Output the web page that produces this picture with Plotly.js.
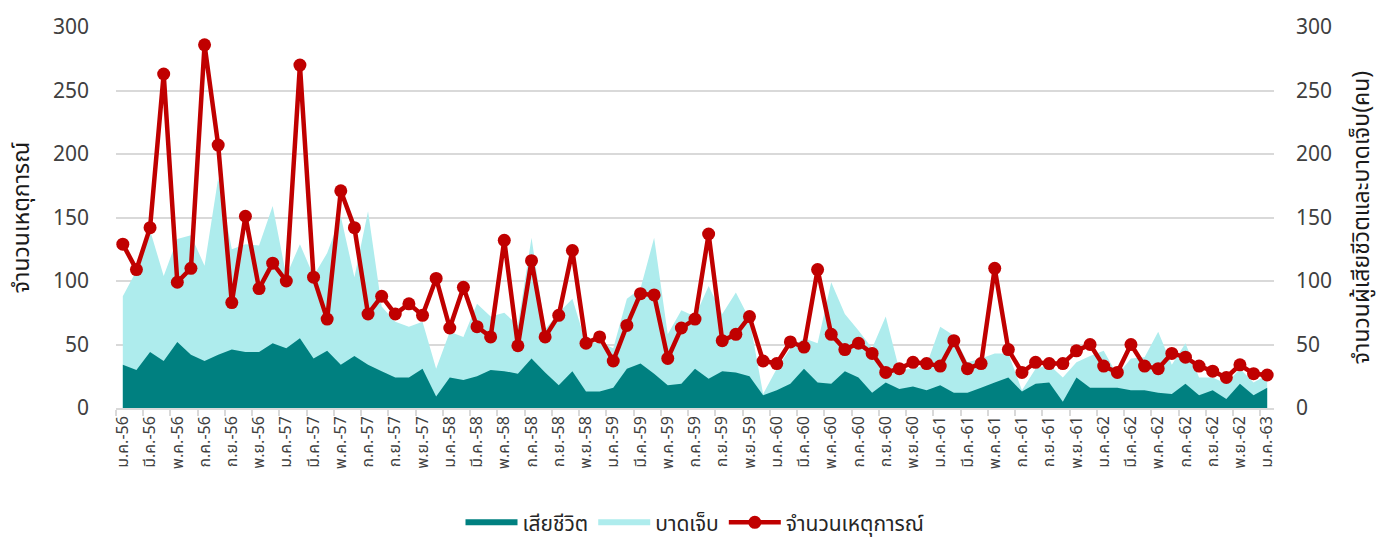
<!DOCTYPE html>
<html>
<head>
<meta charset="utf-8">
<script src="https://cdn.plot.ly/plotly-3.0.1.min.js"></script>
<style>html,body{margin:0;padding:0;background:#fff;}#chart{width:1389px;height:540px;}</style>
</head>
<body>
<div id="chart"></div>
<script>
// Month categories (Thai Buddhist-era short form), Jan 2556 – Jan 2563
const months = [
  'ม.ค.-56','ก.พ.-56','มี.ค.-56','เม.ย.-56','พ.ค.-56','มิ.ย.-56','ก.ค.-56','ส.ค.-56','ก.ย.-56','ต.ค.-56','พ.ย.-56','ธ.ค.-56',
  'ม.ค.-57','ก.พ.-57','มี.ค.-57','เม.ย.-57','พ.ค.-57','มิ.ย.-57','ก.ค.-57','ส.ค.-57','ก.ย.-57','ต.ค.-57','พ.ย.-57','ธ.ค.-57',
  'ม.ค.-58','ก.พ.-58','มี.ค.-58','เม.ย.-58','พ.ค.-58','มิ.ย.-58','ก.ค.-58','ส.ค.-58','ก.ย.-58','ต.ค.-58','พ.ย.-58','ธ.ค.-58',
  'ม.ค.-59','ก.พ.-59','มี.ค.-59','เม.ย.-59','พ.ค.-59','มิ.ย.-59','ก.ค.-59','ส.ค.-59','ก.ย.-59','ต.ค.-59','พ.ย.-59','ธ.ค.-59',
  'ม.ค.-60','ก.พ.-60','มี.ค.-60','เม.ย.-60','พ.ค.-60','มิ.ย.-60','ก.ค.-60','ส.ค.-60','ก.ย.-60','ต.ค.-60','พ.ย.-60','ธ.ค.-60',
  'ม.ค.-61','ก.พ.-61','มี.ค.-61','เม.ย.-61','พ.ค.-61','มิ.ย.-61','ก.ค.-61','ส.ค.-61','ก.ย.-61','ต.ค.-61','พ.ย.-61','ธ.ค.-61',
  'ม.ค.-62','ก.พ.-62','มี.ค.-62','เม.ย.-62','พ.ค.-62','มิ.ย.-62','ก.ค.-62','ส.ค.-62','ก.ย.-62','ต.ค.-62','พ.ย.-62','ธ.ค.-62',
  'ม.ค.-63'
];

// Deaths (เสียชีวิต)
const deaths = [
  34,30,44,37,52,42,37,42,46,44,44,51,
  47,55,39,45,34,41,34,29,24,24,31,9,
  24,22,25,30,29,27,39,28,18,29,13,13,
  16,31,35,27,18,19,31,23,29,28,25,10,
  14,19,31,20,19,29,24,12,20,15,17,14,
  18,12,12,16,20,24,13,19,20,5,24,16,
  16,16,14,14,12,11,19,10,14,7,19,10,
  16
];

// Injuries (บาดเจ็บ)
const injuries = [
  88,108,140,104,133,136,112,181,125,129,128,159,
  104,129,104,122,151,103,155,80,68,64,68,31,
  60,56,82,72,75,65,134,62,75,86,51,52,
  47,86,94,134,58,77,72,96,74,91,70,11,
  31,47,55,51,99,74,61,47,72,30,31,34,
  64,57,36,39,43,43,14,31,34,24,36,41,
  45,26,39,40,60,34,51,24,24,19,31,20,
  26
];

// Number of incidents (จำนวนเหตุการณ์)
const incidents = [
  129,109,142,263,99,110,286,207,83,151,94,114,
  100,270,103,70,171,142,74,88,74,82,73,102,
  63,95,64,56,132,49,116,56,73,124,51,56,
  37,65,90,89,39,63,70,137,53,58,72,37,
  35,52,48,109,58,46,51,43,28,31,36,35,
  33,53,31,35,110,46,28,36,35,35,45,50,
  33,28,50,33,31,43,40,33,29,24,34,27,
  26
];

const xIdx = months.map((_, i) => i);
const tickVals = xIdx.filter(i => i % 2 === 0);
const tickText = tickVals.map(i => months[i]);

const FONT = 'Noto Sans Thai, Noto Sans, sans-serif';

const traces = [
  {
    name: 'บาดเจ็บ', x: xIdx, y: injuries, text: months,
    type: 'scatter', mode: 'none', fill: 'tozeroy',
    fillcolor: '#aeeced', yaxis: 'y', legendrank: 2,
    hovertemplate: '%{text}<br>บาดเจ็บ: %{y}<extra></extra>'
  },
  {
    name: 'เสียชีวิต', x: xIdx, y: deaths, text: months,
    type: 'scatter', mode: 'none', fill: 'tozeroy',
    fillcolor: '#008080', yaxis: 'y', legendrank: 1,
    hovertemplate: '%{text}<br>เสียชีวิต: %{y}<extra></extra>'
  },
  {
    name: 'จำนวนเหตุการณ์', x: xIdx, y: incidents, text: months,
    type: 'scatter', mode: 'lines+markers', yaxis: 'y2', legendrank: 3,
    line: {color: '#c00000', width: 4.5},
    marker: {color: '#c00000', size: 13},
    hovertemplate: '%{text}<br>จำนวนเหตุการณ์: %{y}<extra></extra>'
  }
];

const layout = {
  width: 1389, height: 540,
  margin: {l: 116, r: 115, t: 27, b: 132},
  paper_bgcolor: '#ffffff', plot_bgcolor: '#ffffff',
  font: {family: FONT, color: '#404040', size: 18},
  showlegend: true,
  legend: {
    orientation: 'h', x: 0.5, xanchor: 'center',
    yref: 'container', y: 0.032, yanchor: 'middle',
    font: {family: FONT, size: 21, color: '#262626'},
    itemwidth: 52, traceorder: 'normal'
  },
  xaxis: {
    range: [-0.5, 84.5], tickmode: 'array', tickvals: tickVals, ticktext: tickText,
    tickangle: -90, ticks: '', showgrid: false, zeroline: false,
    showline: true, linecolor: '#d9d9d9', linewidth: 1.5,
    tickfont: {family: FONT, size: 16, color: '#404040'},
    minor: {tickmode: 'linear', tick0: -0.5, dtick: 2, ticks: 'outside', ticklen: 6,
            tickcolor: '#d9d9d9', tickwidth: 1.5, showgrid: false}
  },
  yaxis: {
    side: 'right', range: [0, 300], dtick: 50, tick0: 0,
    showgrid: true, gridcolor: '#d9d9d9', gridwidth: 1.5, zeroline: false,
    showline: false, ticks: '', ticklabelstandoff: 21,
    tickfont: {family: FONT, size: 21, color: '#404040'},
    title: {text: 'จำนวนผู้เสียชีวิตและบาดเจ็บ(คน)', font: {family: FONT, size: 23, color: '#1a1a1a'}, standoff: 21}
  },
  yaxis2: {
    overlaying: 'y', side: 'left', range: [0, 300], dtick: 50, tick0: 0,
    showgrid: false, zeroline: false, showline: false, ticks: '', ticklabelstandoff: 26,
    tickfont: {family: FONT, size: 21, color: '#404040'},
    title: {text: 'จำนวนเหตุการณ์', font: {family: FONT, size: 23, color: '#1a1a1a'}, standoff: 16}
  }
};

Plotly.newPlot('chart', traces, layout, {displayModeBar: false, responsive: false});
</script>
</body>
</html>
